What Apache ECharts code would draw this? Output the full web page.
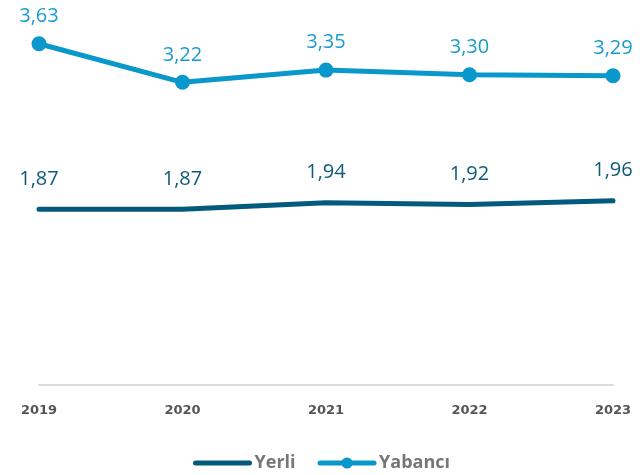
<!DOCTYPE html>
<html>
<head>
<meta charset="utf-8">
<title>Yerli / Yabancı</title>
<script src="https://cdn.jsdelivr.net/npm/echarts@6/dist/echarts.min.js"></script>
<style>
	html, body { margin: 0; padding: 0; background: #fff; }
	#container { width: 643px; height: 475px; }
</style>
</head>
<body>
<div id="container"></div>
<script type="text/javascript">
	// data
	var years = ['2019', '2020', '2021', '2022', '2023'];
	var yerli = [1.87, 1.87, 1.94, 1.92, 1.96];
	var yabanci = [3.63, 3.22, 3.35, 3.30, 3.29];

	var myChart = echarts.init(document.getElementById('container'));

	function comma(p) {
		return p.value.toFixed(2).replace('.', ',');
	}

	var option = {
		animation: false,
		grid: { left: 39, right: 30, top: 9, bottom: 90 },
		xAxis: {
			type: 'category',
			data: years,
			boundaryGap: false,
			axisTick: { show: false },
			axisLine: { lineStyle: { color: '#dcdcdc', width: 2 } },
			axisLabel: {
				color: '#555',
				fontWeight: 'bold',
				fontSize: 13,
				fontFamily: 'DejaVu Sans',
				margin: 19
			}
		},
		yAxis: {
			type: 'value',
			min: 0,
			max: 4,
			show: false,
			splitLine: { show: false }
		},
		legend: {
			bottom: -2,
			left: 'center',
			itemWidth: 54,
			itemHeight: 14,
			itemGap: 22,
			lineStyle: { width: 5, cap: 'round' },
			textStyle: { color: '#777', fontSize: 18, fontWeight: 'bold', fontFamily: 'Open Sans' },
			data: ['Yerli', 'Yabancı']
		},
		series: [
			{
				name: 'Yerli',
				type: 'line',
				data: yerli,
				symbol: 'circle',
				symbolSize: 2,
				color: '#035a7c',
				itemStyle: { color: 'rgba(0,0,0,0)' },
				lineStyle: { width: 5, color: '#035a7c', cap: 'round' },
				label: {
					show: true,
					position: 'top',
					distance: 19,
					color: '#0d5a7a',
					fontSize: 20,
					fontFamily: 'Open Sans',
					formatter: comma
				}
			},
			{
				name: 'Yabancı',
				type: 'line',
				data: yabanci,
				symbol: 'circle',
				symbolSize: 15,
				color: '#0997cc',
				lineStyle: { width: 5, color: '#0997cc', cap: 'round' },
				label: {
					show: true,
					position: 'top',
					distance: 10,
					color: '#1a9bd0',
					fontSize: 20,
					fontFamily: 'Open Sans',
					formatter: comma
				}
			}
		]
	};

	myChart.setOption(option);
</script>
</body>
</html>
